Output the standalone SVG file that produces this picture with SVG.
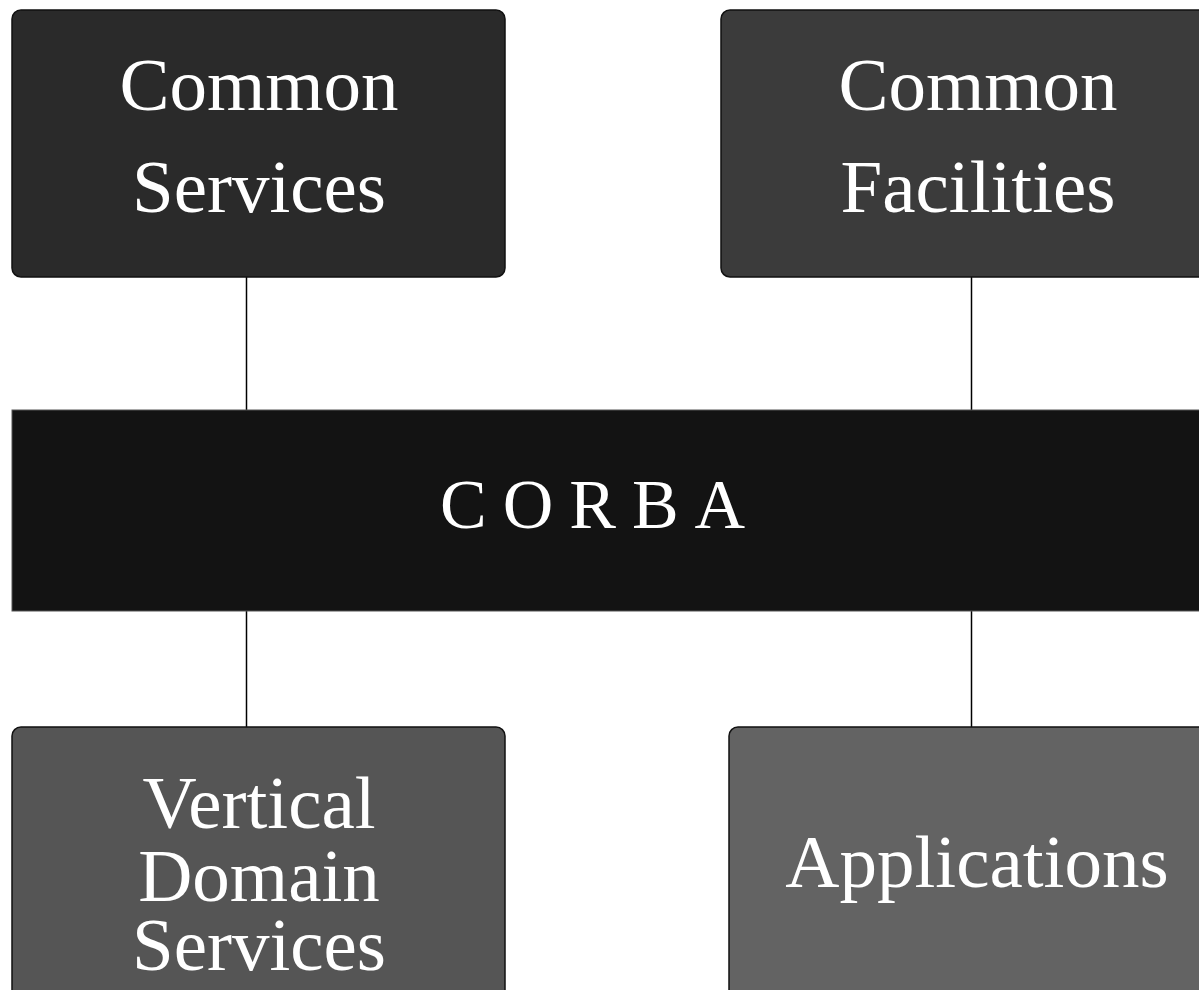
<svg xmlns="http://www.w3.org/2000/svg" width="1199" height="990" viewBox="0 0 1199 990">
<style>
.box{stroke:#111;stroke-width:1.5}
.lbl{font-family:"Liberation Serif","Times New Roman",serif;font-size:75px;fill:#fff;text-anchor:middle}
.conn{stroke:#000;stroke-width:1.5;fill:none}
</style>
<rect width="1199" height="990" fill="#fff"/>
<g id="connectors">
<line class="conn" x1="246.5" y1="277" x2="246.5" y2="410"/>
<line class="conn" x1="971.5" y1="277" x2="971.5" y2="410"/>
<line class="conn" x1="246.5" y1="611" x2="246.5" y2="727"/>
<line class="conn" x1="971.5" y1="611" x2="971.5" y2="727"/>
</g>
<g id="common-services">
<rect class="box" x="12" y="10" width="493" height="267" rx="9" fill="#2a2a2a"/>
<text class="lbl" x="259" y="110">Common</text>
<text class="lbl" x="259" y="212">Services</text>
</g>
<g id="common-facilities">
<rect class="box" x="721" y="10" width="500" height="267" rx="9" fill="#3b3b3b"/>
<text class="lbl" x="978" y="110">Common</text>
<text class="lbl" x="978" y="212">Facilities</text>
</g>
<g id="corba">
<rect x="12" y="410" width="1200" height="201" fill="#131313" stroke="#555" stroke-width="1"/>
<text x="440" y="528" font-family="'Liberation Serif','Times New Roman',serif" font-size="70" fill="#fff" letter-spacing="16">CORBA</text>
</g>
<g id="vertical-domain-services">
<rect class="box" x="12" y="727" width="493" height="280" rx="9" fill="#555555"/>
<text class="lbl" x="259" y="828">Vertical</text>
<text class="lbl" x="259" y="901">Domain</text>
<text class="lbl" x="259" y="970">Services</text>
</g>
<g id="applications">
<rect class="box" x="729" y="727" width="500" height="280" rx="9" fill="#636363"/>
<text class="lbl" x="977" y="887">Applications</text>
</g>
</svg>
